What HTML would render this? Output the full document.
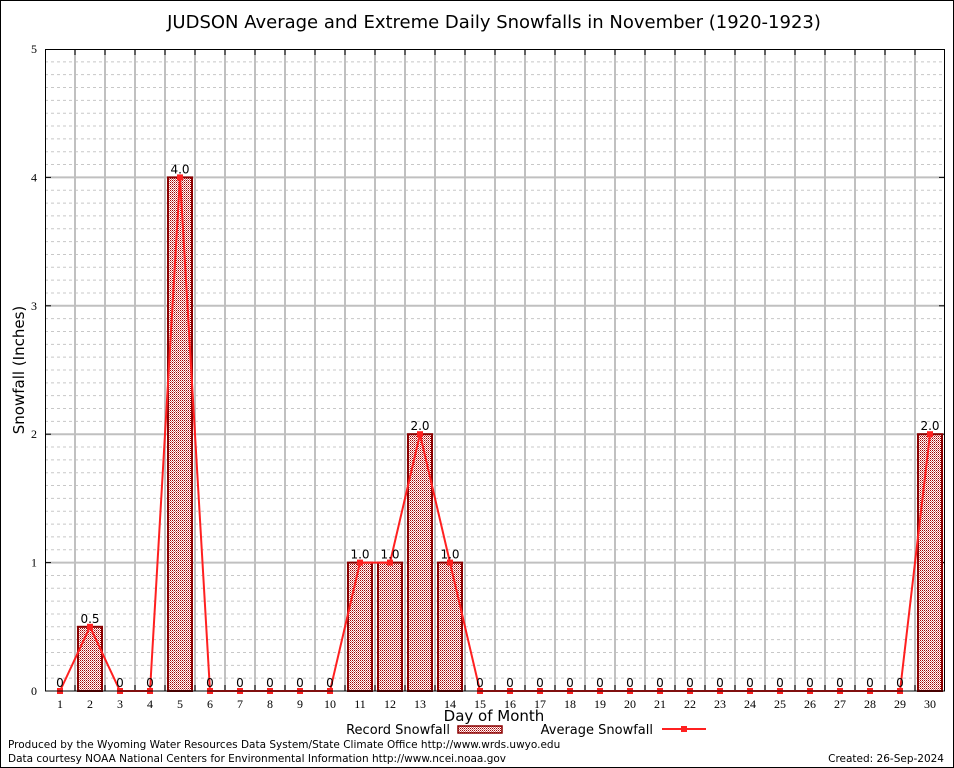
<!DOCTYPE html>
<html><head><meta charset="utf-8"><style>
body{margin:0;background:#fff;}
svg{display:block;font-family:"DejaVu Sans","Liberation Sans",sans-serif;}
</style></head><body>
<svg id="c" width="954" height="768" viewBox="0 0 954 768">
<defs>
<pattern id="chk" width="2" height="2" patternUnits="userSpaceOnUse">
<rect width="2" height="2" fill="#fff"/><rect width="1" height="1" fill="#a00000"/><rect x="1" y="1" width="1" height="1" fill="#d87070"/>
</pattern>
</defs>
<rect x="0.5" y="0.5" width="953" height="767" fill="#fff" stroke="#000"/>
<text x="494" y="28" font-size="18" text-anchor="middle">JUDSON Average and Extreme Daily Snowfalls in November (1920-1923)</text>
<g id="grid"></g>
<g id="bars"></g>
<g id="line"></g>
<g id="labels"></g>
<rect x="45.5" y="49.5" width="899" height="641.5" fill="none" stroke="#000"/>
<text x="24" y="370" font-size="15" text-anchor="middle" transform="rotate(-90 24 370)">Snowfall (Inches)</text>
<text x="494" y="721" font-size="15" text-anchor="middle">Day of Month</text>
<g>
<text x="450" y="734" font-size="13" text-anchor="end">Record Snowfall</text>
<rect x="458" y="726" width="44" height="7" fill="url(#chk)" stroke="#8b0000" stroke-width="1.5"/>
<text x="653" y="734" font-size="13" text-anchor="end">Average Snowfall</text>
<line x1="662" y1="729" x2="706" y2="729" stroke="#ff2020" stroke-width="2"/>
<rect x="681" y="726" width="6" height="6" fill="#ff2020"/>
</g>
<text x="8" y="748" font-size="10.5">Produced by the Wyoming Water Resources Data System/State Climate Office http://www.wrds.uwyo.edu</text>
<text x="8" y="762" font-size="10.5">Data courtesy NOAA National Centers for Environmental Information http://www.ncei.noaa.gov</text>
<text x="944" y="762" font-size="10.5" text-anchor="end">Created: 26-Sep-2024</text>
</svg>
<script>
const days=[1,2,3,4,5,6,7,8,9,10,11,12,13,14,15,16,17,18,19,20,21,22,23,24,25,26,27,28,29,30];
const recordSnow=[0,0.5,0,0,4,0,0,0,0,0,1,1,2,1,0,0,0,0,0,0,0,0,0,0,0,0,0,0,0,2];
const avgSnow=[0,0.5,0,0,4,0,0,0,0,0,1,1,2,1,0,0,0,0,0,0,0,0,0,0,0,0,0,0,0,2];
const yTicks=[0,1,2,3,4,5];
const NS='http://www.w3.org/2000/svg';
const X0=45,X1=945,Y0=691,Y1=49,YMAX=5;
const xs=d=>X0+(d-0.5)*(X1-X0)/days.length;
const ys=v=>Y0-v*(Y0-Y1)/YMAX;
function mk(tag,attrs,parent){const e=document.createElementNS(NS,tag);for(const k in attrs)e.setAttribute(k,attrs[k]);parent.appendChild(e);return e;}
const grid=document.getElementById('grid');
for(let i=0;i<YMAX*10;i++){if(i%10===0)continue;const y=ys(i/10);
const l=mk('line',{x1:X0,x2:X1,y1:y,y2:y,stroke:'#c8c8c8','stroke-dasharray':'3,3'},grid);

}
for(let k=1;k<days.length;k++){const x=X0+k*(X1-X0)/days.length;
const l=mk('line',{x1:x,x2:x,y1:Y1,y2:Y0,stroke:'#c0c0c0','stroke-width':2},grid);


const t=mk('line',{x1:x,x2:x,y1:Y1,y2:Y1+6,stroke:'#000'},grid);


const b=mk('line',{x1:x,x2:x,y1:Y0,y2:Y0-6,stroke:'#000'},grid);

}
yTicks.forEach(v=>{const y=ys(v);
if(v>0&&v<YMAX){const l=mk('line',{x1:X0,x2:X1,y1:y,y2:y,stroke:'#c0c0c0','stroke-width':2},grid);


const t1=mk('line',{x1:X0,x2:X0+6,y1:y,y2:y,stroke:'#000'},grid);


const t2=mk('line',{x1:X1,x2:X1-6,y1:y,y2:y,stroke:'#000'},grid);

}
const t=mk('text',{x:X0-8,y:y+4,'font-size':12,'text-anchor':'end','font-family':'Liberation Serif,serif'},grid);t.textContent=v;

});
days.forEach(d=>{const t=mk('text',{x:xs(d),y:Y0+17,'font-size':12,'text-anchor':'middle','font-family':'Liberation Serif,serif'},grid);t.textContent=d;

});
const bars=document.getElementById('bars');
const bw=(X1-X0)/days.length*0.8;
days.forEach((d,i)=>{const v=recordSnow[i];if(v<=0)return;
const r=mk('rect',{x:xs(d)-bw/2,y:ys(v),width:bw,height:Y0-ys(v),fill:'url(#chk)',stroke:'#8b0000','stroke-width':2},bars);

});
const lg=document.getElementById('line');
const pl=mk('polyline',{points:days.map((d,i)=>xs(d)+','+ys(avgSnow[i])).join(' '),fill:'none',stroke:'#ff2020','stroke-width':2},lg);


days.forEach((d,i)=>{const m=mk('rect',{x:xs(d)-3,y:ys(avgSnow[i])-3,width:6,height:6,fill:'#ff2020'},lg);

});
const lb=document.getElementById('labels');
days.forEach((d,i)=>{const v=recordSnow[i];const t=mk('text',{x:xs(d),y:ys(v)-4,'font-size':12,'text-anchor':'middle'},lb);
t.textContent=v===0?'0':v.toFixed(1);

});
</script>
</body></html>
